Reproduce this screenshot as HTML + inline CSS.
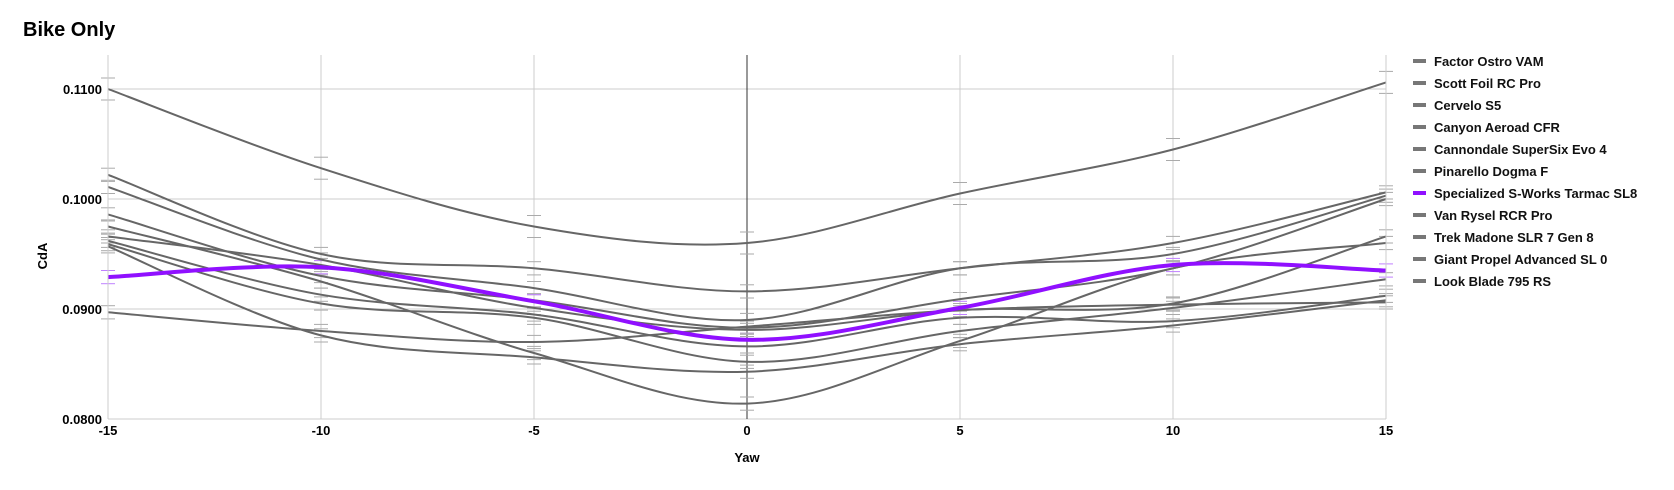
<!DOCTYPE html>
<html><head><meta charset="utf-8"><style>
body{margin:0;background:#fff;font-family:"Liberation Sans",Arial,sans-serif}
svg text{font-family:"Liberation Sans",Arial,sans-serif;font-weight:bold}
</style></head><body>
<svg id="chart" width="1674" height="485" xmlns="http://www.w3.org/2000/svg">
<text x="23" y="36" font-size="20" fill="#000">Bike Only</text>
<g id="grid"></g>
<g id="series"></g>
<g id="axes"></g>
<text x="747" y="462" font-size="13" text-anchor="middle">Yaw</text>
<text x="47" y="256" font-size="13" text-anchor="middle" transform="rotate(-90 47 256)">CdA</text>
<g id="legend"></g>
</svg>
<script>
const yaws=[-15,-10,-5,0,5,10,15];
const names=["Factor Ostro VAM","Scott Foil RC Pro","Cervelo S5","Canyon Aeroad CFR","Cannondale SuperSix Evo 4","Pinarello Dogma F","Specialized S-Works Tarmac SL8","Van Rysel RCR Pro","Trek Madone SLR 7 Gen 8","Giant Propel Advanced SL 0","Look Blade 795 RS"];
const s0=[0.1100,0.1028,0.0975,0.0960,0.1005,0.1045,0.1106];
const s1=[0.1022,0.0950,0.0937,0.0916,0.0937,0.0960,0.1006];
const s2=[0.1011,0.0945,0.0919,0.0890,0.0937,0.0950,0.1003];
const s3=[0.0986,0.0930,0.0908,0.0883,0.0909,0.0937,0.1000];
const s4=[0.0975,0.0925,0.0860,0.0814,0.0871,0.0937,0.0960];
const s5=[0.0966,0.0940,0.0901,0.0881,0.0899,0.0905,0.0966];
const s6=[0.0929,0.0938,0.0907,0.0872,0.0901,0.0940,0.0935];
const s7=[0.0962,0.0913,0.0895,0.0866,0.0892,0.0889,0.0912];
const s8=[0.0959,0.0905,0.0892,0.0852,0.0880,0.0901,0.0927];
const s9=[0.0957,0.0876,0.0856,0.0843,0.0868,0.0885,0.0908];
const s10=[0.0897,0.0880,0.0870,0.0884,0.0899,0.0904,0.0906];
const allSeries=[s0,s1,s2,s3,s4,s5,s6,s7,s8,s9,s10];
const errs=[0.0010,0.0006,0.0006,0.0006,0.0006,0.0006,0.0006,0.0006,0.0006,0.0006,0.0006];
const yTicks=[0.08,0.09,0.10,0.11];
const xTicks=[-15,-10,-5,0,5,10,15];
const highlight=6;

const L=108,R=1386,T=55,B=419;
const x=v=>L+(v+15)/30*(R-L);
const y=v=>419-(v-0.08)/0.01*110;
const NS="http://www.w3.org/2000/svg";
function mk(tag,attrs,parent){const e=document.createElementNS(NS,tag);for(const k in attrs)e.setAttribute(k,attrs[k]);parent.appendChild(e);return e;}
const grid=document.getElementById('grid'),axes=document.getElementById('axes'),ser=document.getElementById('series'),leg=document.getElementById('legend');
yTicks.forEach(t=>{
  const l=mk('line',{x1:L,x2:R,y1:y(t),y2:y(t),stroke:'#ccc','stroke-width':1},grid);
  
  
  const tx=mk('text',{x:102,y:y(t)+5,'font-size':13,'text-anchor':'end'},axes);
  tx.textContent=t.toFixed(4);
  
  
});
xTicks.forEach(t=>{
  const l=mk('line',{x1:x(t),x2:x(t),y1:T,y2:B,stroke:t===0?'#333':'#ccc','stroke-width':1},grid);
  
  
  const tx=mk('text',{x:x(t),y:435,'font-size':13,'text-anchor':'middle'},axes);
  tx.textContent=String(t);
  
  
});
function path(vals){
  const p=vals.map((v,i)=>[x(yaws[i]),y(v)]);
  let d='M'+p[0][0]+','+p[0][1];
  for(let i=0;i<p.length-1;i++){
    const p0=p[Math.max(0,i-1)],p1=p[i],p2=p[i+1],p3=p[Math.min(p.length-1,i+2)];
    const c1=[p1[0]+(p2[0]-p0[0])/6,p1[1]+(p2[1]-p0[1])/6];
    const c2=[p2[0]-(p3[0]-p1[0])/6,p2[1]-(p3[1]-p1[1])/6];
    d+=' C'+c1+' '+c2+' '+p2;
  }
  return d;
}
allSeries.forEach((vals,si)=>{
  const hl=si===highlight, col=hl?'#9010ff':'#666';
  vals.forEach((v,i)=>{
    [v-errs[si],v+errs[si]].forEach(e=>{
      const c=mk('line',{x1:x(yaws[i])-7,x2:x(yaws[i])+7,y1:y(e),y2:y(e),stroke:hl?'#c080ff':'#aaa','stroke-width':1},ser);
      
      
    });
  });
});
allSeries.forEach((vals,si)=>{
  if(si===highlight)return;
  const p=mk('path',{d:path(vals),fill:'none',stroke:'#666','stroke-width':2},ser);
  
  
});
const hp=mk('path',{d:path(allSeries[highlight]),fill:'none',stroke:'#9010ff','stroke-width':4},ser);


mk('line',{x1:L,x2:L,y1:T,y2:B,stroke:'#ccc'},axes);
mk('line',{x1:R,x2:R,y1:T,y2:B,stroke:'#ccc'},axes);
names.forEach((n,i)=>{
  const yy=61+i*22;
  const g=mk('g',{},leg);
  
  
  mk('rect',{x:1413,y:yy-2,width:13,height:4,fill:i===highlight?'#9010ff':'#777'},g);
  const t=mk('text',{x:1434,y:yy+5,'font-size':13,fill:'#111'},g);
  t.textContent=n;
});
</script>
</body></html>
